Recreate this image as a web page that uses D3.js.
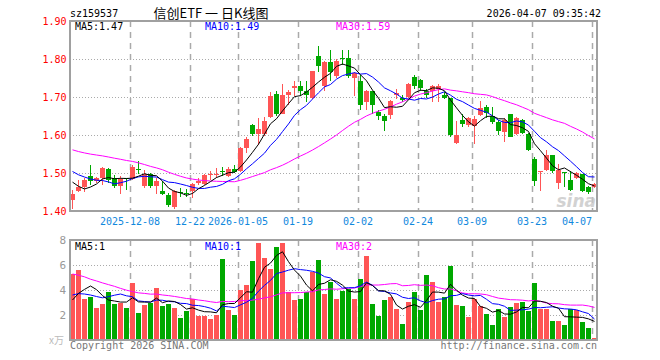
<!DOCTYPE html>
<html>
<head>
<meta charset="utf-8">
<script src="https://cdn.jsdelivr.net/npm/d3@7"></script>
<style>
  body { margin: 0; background: #fff; }
  text { font-family: "DejaVu Sans Mono", monospace; font-size: 10px; }
</style>
</head>
<body>
<div id="chart"></div>
<script>
// daily candles, oldest first (88 trading days, 2025-11-24 .. 2026-04-07)
var open = [1.428,1.452,1.462,1.493,1.478,1.487,1.511,1.487,1.465,1.487,
  1.484,1.510,1.467,1.498,1.465,1.452,1.443,1.411,1.450,1.447,
  1.452,1.474,1.471,1.494,1.495,1.505,1.491,1.511,1.504,1.567,
  1.627,1.603,1.603,1.648,1.709,1.656,1.704,1.724,1.730,1.715,
  1.697,1.807,1.730,1.791,1.754,1.803,1.803,1.749,1.741,1.688,
  1.717,1.661,1.650,1.653,1.706,1.697,1.701,1.753,1.745,1.716,
  1.715,1.721,1.706,1.697,1.579,1.640,1.627,1.624,1.653,1.675,
  1.649,1.634,1.607,1.656,1.603,1.640,1.603,1.538,1.502,1.509,
  1.548,1.474,1.503,1.482,1.487,1.497,1.462,1.462];
var high = [1.456,1.481,1.487,1.522,1.489,1.515,1.513,1.495,1.491,1.488,
  1.522,1.531,1.509,1.500,1.486,1.478,1.447,1.454,1.460,1.459,
  1.474,1.487,1.498,1.504,1.513,1.515,1.515,1.520,1.568,1.596,
  1.628,1.646,1.648,1.712,1.717,1.734,1.719,1.741,1.741,1.741,
  1.769,1.833,1.794,1.824,1.801,1.824,1.824,1.766,1.759,1.719,
  1.717,1.667,1.656,1.693,1.720,1.704,1.737,1.758,1.748,1.722,
  1.732,1.735,1.712,1.697,1.636,1.655,1.648,1.649,1.690,1.680,
  1.675,1.640,1.645,1.656,1.648,1.641,1.604,1.541,1.505,1.561,
  1.548,1.524,1.503,1.504,1.502,1.498,1.465,1.473];
var low = [1.406,1.449,1.449,1.469,1.473,1.469,1.474,1.460,1.446,1.455,
  1.482,1.497,1.460,1.460,1.446,1.443,1.411,1.406,1.438,1.436,
  1.434,1.468,1.468,1.482,1.487,1.493,1.489,1.500,1.502,1.553,
  1.598,1.574,1.597,1.646,1.649,1.654,1.680,1.702,1.702,1.687,
  1.695,1.767,1.717,1.741,1.749,1.783,1.749,1.703,1.666,1.667,
  1.655,1.640,1.611,1.643,1.695,1.687,1.697,1.721,1.715,1.697,
  1.688,1.688,1.695,1.594,1.577,1.621,1.620,1.576,1.651,1.645,
  1.628,1.600,1.581,1.594,1.600,1.603,1.559,1.467,1.453,1.504,
  1.500,1.459,1.464,1.453,1.484,1.450,1.444,1.460];
var close = [1.446,1.463,1.481,1.478,1.487,1.513,1.481,1.465,1.484,1.485,
  1.517,1.507,1.497,1.465,1.478,1.446,1.416,1.452,1.447,1.445,
  1.471,1.478,1.496,1.497,1.498,1.502,1.511,1.502,1.566,1.590,
  1.603,1.617,1.636,1.702,1.656,1.706,1.713,1.728,1.715,1.704,
  1.769,1.781,1.791,1.766,1.796,1.800,1.756,1.762,1.678,1.717,
  1.678,1.650,1.637,1.690,1.710,1.691,1.735,1.730,1.723,1.704,
  1.728,1.730,1.697,1.601,1.601,1.629,1.645,1.642,1.671,1.657,
  1.634,1.610,1.640,1.596,1.645,1.605,1.561,1.478,1.504,1.548,
  1.504,1.509,1.501,1.456,1.500,1.452,1.450,1.471];
// volume, in 万
var volume = [5.28,5.6,3.28,3.41,2.59,2.88,3.84,2.88,2.99,2.59,
  4.59,2.19,2.8,2.99,4.19,2.75,2.88,2.59,1.79,2.35,
  3.28,1.95,1.95,1.71,2.0,6.51,2.4,2.0,4.0,4.4,
  6.32,7.79,6.59,5.68,7.44,7.79,3.84,3.2,3.28,3.87,
  5.47,6.4,3.68,4.67,3.25,3.95,4.05,3.25,4.88,6.75,
  2.88,1.95,3.2,3.47,2.48,1.28,3.07,3.84,2.4,5.2,
  4.67,3.04,3.44,5.95,2.8,2.72,1.87,3.25,2.72,2.11,
  1.2,2.51,1.87,2.64,2.99,3.04,2.35,4.59,2.51,2.51,
  1.55,1.55,1.2,2.45,2.4,1.44,0.96,0.19];
// the 29 sessions before the window, only used to seed the moving averages
var priorClose = [1.60,1.59,1.57,1.56,1.58,1.57,1.56,1.57,1.58,1.59,
  1.62,1.63,1.61,1.60,1.59,1.61,1.62,1.60,1.58,1.56,
  1.55,1.54,1.53,1.52,1.52,1.518,1.516,1.453,1.447];
var priorVolume = [8.5,7.2,9.1,6.8,7.5,8.0,7.0,7.9,6.9,8.0,
  5.2,4.1,4.8,3.9,5.0,4.4,4.6,4.2,4.9,4.4,
  4.5,3.6,4.2,3.8,3.9,2.95,1.68,2.06,4.03];

var tickIndex = [10, 20, 28, 38, 48, 58, 67, 77, 87];
var tickLabels = ['2025-12-08','12-22','2026-01-05','01-19','02-02','02-24','03-09','03-23','04-07'];
var priceTicks = [1.90, 1.80, 1.70, 1.60, 1.50, 1.40];
var volTicks = [8, 6, 4, 2];

var code = 'sz159537';
var title = '信创ETF 一 日K线图';
var stamp = '2026-04-07 09:35:42';

var width = 660, height = 360;
var left = 70, right = 597;
var up = '#ff5555', down = '#00a800';
var maColors = {5: '#000000', 10: '#0000ff', 30: '#ff00ff'};

var svg = d3.select('#chart')
  .append('svg')
  .attr('width', width)
  .attr('height', height)
  .style('display', 'block');

var n = close.length;
var x = d3.scaleLinear().domain([0, 88]).range([left, left + 6 * 88]);
var y = d3.scaleLinear().domain([1.40, 1.90]).range([211, 21]);
var yv = d3.scaleLinear().domain([0, 8]).range([340, 240]);

function movingAvg(prior, vals, len) {
  var all = prior.concat(vals);
  return vals.map(function(v, i) {
    var end = i + prior.length;
    return d3.mean(all.slice(end - len + 1, end + 1));
  });
}

var bars = d3.range(n).map(function(i) {
  return {i: i, o: open[i], h: high[i], l: low[i], c: close[i], v: volume[i]};
});

// header
svg.append('text').attr('x', 70).attr('y', 17).text(code);
svg.append('text').attr('x', 211).attr('y', 18)
  .attr('text-anchor', 'middle')
  .style('font-family', '"Noto Sans CJK SC", sans-serif')
  .style('font-size', '13px')
  .text(title);
svg.append('text').attr('x', 601).attr('y', 17).attr('text-anchor', 'end').text(stamp);

function panel(top, bottom, yScale, grid, name) {
  var g = svg.append('g');
  g.append('clipPath').attr('id', 'clip-' + name)
    .append('rect').attr('x', left).attr('y', top).attr('width', right - left).attr('height', bottom - top);

  g.selectAll('.hgrid').data(grid).enter()
    .append('line')
    .attr('x1', left).attr('x2', right)
    .attr('y1', function(d) { return Math.round(yScale(d)) + 0.5; })
    .attr('y2', function(d) { return Math.round(yScale(d)) + 0.5; })
    .attr('stroke', '#aaaaaa')
    .attr('stroke-dasharray', '1,2');

  g.selectAll('.vgrid').data(tickIndex).enter()
    .append('line')
    .attr('x1', function(d) { return x(d) + 0.5; })
    .attr('x2', function(d) { return x(d) + 0.5; })
    .attr('y1', top).attr('y2', bottom)
    .attr('stroke', '#aaaaaa')
    .attr('stroke-width', 1.5)
    .attr('stroke-dasharray', '6,5');
  return g;
}

// ---- price panel
var pg = panel(21, 211, y, [1.80, 1.70, 1.60, 1.50], 'price');

var candles = pg.selectAll('.candle').data(bars).enter()
  .append('g')
  .attr('fill', function(d) { return d.c >= d.o ? up : down; })
  .attr('stroke', 'none')
  .attr('shape-rendering', 'crispEdges');
candles.append('rect')
  .attr('x', function(d) { return x(d.i) + 2; })
  .attr('width', 1)
  .attr('y', function(d) { return y(d.h); })
  .attr('height', function(d) { return Math.max(1, y(d.l) - y(d.h)); });
candles.append('rect')
  .attr('x', function(d) { return x(d.i); })
  .attr('width', 5)
  .attr('y', function(d) { return y(Math.max(d.o, d.c)); })
  .attr('height', function(d) { return Math.max(1, Math.abs(y(d.o) - y(d.c))); });

var pMA = {};
[30, 10, 5].forEach(function(len) {
  pMA[len] = movingAvg(priorClose, close, len);
  pg.append('path')
    .datum(pMA[len])
    .attr('clip-path', 'url(#clip-price)')
    .attr('fill', 'none')
    .attr('stroke', maColors[len])
    .attr('stroke-width', 1)
    .attr('d', d3.line().x(function(d, i) { return x(i) + 2.5; }).y(function(d) { return y(d); }));
});

// sina watermark
pg.append('text').attr('x', 596).attr('y', 207).attr('text-anchor', 'end')
  .style('font-family', '"DejaVu Sans", sans-serif')
  .style('font-size', '17px').style('font-style', 'italic').style('font-weight', 'bold')
  .attr('fill', '#c8c8c8').attr('opacity', 0.8)
  .text('sina');

pg.append('rect').attr('x', left).attr('y', 21).attr('width', right - left).attr('height', 190)
  .attr('fill', 'none').attr('stroke', '#a0a0a0').attr('stroke-width', 2);

pg.selectAll('.plab').data(priceTicks).enter()
  .append('text')
  .attr('x', 66.5).attr('y', function(d) { return y(d); })
  .attr('dy', '0.35em')
  .attr('text-anchor', 'end')
  .attr('fill', '#ff0000')
  .text(function(d) { return d.toFixed(2); });

var maX = {5: 75, 10: 205, 30: 336};
[5, 10, 30].forEach(function(len) {
  pg.append('text').attr('x', maX[len]).attr('y', 30)
    .attr('fill', maColors[len])
    .text('MA' + len + ':' + pMA[len][n - 1].toFixed(2));
});

// date axis
svg.selectAll('.dlab').data(tickIndex).enter()
  .append('text')
  .attr('x', function(d) { return x(d); })
  .attr('y', 225)
  .attr('text-anchor', function(d, i) { return i == tickIndex.length - 1 ? 'end' : 'middle'; })
  .attr('fill', '#1188dd')
  .text(function(d, i) { return tickLabels[i]; });

// ---- volume panel
var vg = panel(240, 340, yv, [6, 4, 2], 'vol');

vg.selectAll('.vbar').data(bars).enter()
  .append('rect')
  .attr('shape-rendering', 'crispEdges')
  .attr('x', function(d) { return x(d.i); })
  .attr('width', 5)
  .attr('y', function(d) { return yv(d.v); })
  .attr('height', function(d) { return 340 - yv(d.v); })
  .attr('fill', function(d) { return d.c >= d.o ? up : down; });

var vMA = {};
[30, 10, 5].forEach(function(len) {
  vMA[len] = movingAvg(priorVolume, volume, len);
  vg.append('path')
    .datum(vMA[len])
    .attr('clip-path', 'url(#clip-vol)')
    .attr('fill', 'none')
    .attr('stroke', maColors[len])
    .attr('stroke-width', 1)
    .attr('d', d3.line().x(function(d, i) { return x(i) + 2.5; }).y(function(d) { return yv(d); }));
});

vg.append('rect').attr('x', left).attr('y', 240).attr('width', right - left).attr('height', 100)
  .attr('fill', 'none').attr('stroke', '#a0a0a0').attr('stroke-width', 2);

vg.selectAll('.vlab').data(volTicks).enter()
  .append('text')
  .attr('x', 66).attr('y', function(d) { return yv(d); })
  .attr('dy', '0.35em')
  .attr('text-anchor', 'end')
  .attr('fill', '#999999')
  .style('font-size', '11px')
  .text(function(d) { return d; });
vg.append('text').attr('x', 64).attr('y', 344).attr('text-anchor', 'end')
  .attr('fill', '#bbbbbb')
  .style('font-family', '"Noto Sans CJK SC", sans-serif')
  .text('x万');

[5, 10, 30].forEach(function(len) {
  vg.append('text').attr('x', maX[len]).attr('y', 250)
    .attr('fill', maColors[len])
    .text('MA' + len + ':' + Math.floor(vMA[len][n - 1]));
});

// footer
svg.append('text').attr('x', 70).attr('y', 349).attr('fill', '#777777').text('Copyright 2026 SINA.COM');
svg.append('text').attr('x', 597).attr('y', 349).attr('text-anchor', 'end').attr('fill', '#777777')
  .text('http://finance.sina.com.cn');
</script>
</body>
</html>
